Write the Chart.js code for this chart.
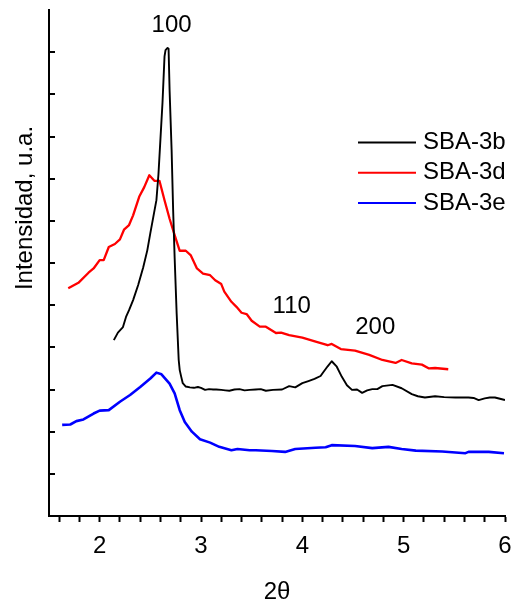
<!DOCTYPE html>
<html>
<head>
<meta charset="utf-8">
<script src="https://cdn.jsdelivr.net/npm/chart.js@4/dist/chart.umd.min.js"></script>
<style>
html,body{margin:0;padding:0;background:#fff;}
canvas{display:block;}
</style>
</head>
<body>
<canvas id="c" width="512" height="602"></canvas>
<script>
// ---- data ----
const seriesNames = ['SBA-3b', 'SBA-3d', 'SBA-3e'];

const xB = [2.14,2.18,2.23,2.26,2.29,2.33,2.38,2.43,2.47,2.50,2.53,2.56,2.58,2.60,2.62,2.64,2.65,2.67,2.68,2.69,2.71,2.725,2.74,2.76,2.78,2.79,2.805,2.82,2.85,2.89,2.93,2.97,3.00,3.04,3.08,3.12,3.15,3.20,3.24,3.28,3.33,3.38,3.43,3.48,3.54,3.59,3.64,3.71,3.80,3.87,3.93,4.00,4.06,4.12,4.18,4.21,4.25,4.29,4.34,4.39,4.44,4.49,4.54,4.59,4.64,4.69,4.74,4.79,4.89,4.98,5.08,5.14,5.21,5.31,5.40,5.51,5.64,5.69,5.74,5.80,5.85,5.90,5.95,6.00];
const yB = [4.17,4.35,4.48,4.72,4.88,5.12,5.48,5.90,6.30,6.71,7.10,7.49,8.10,8.95,9.80,10.90,11.05,11.10,11.08,10.10,8.68,7.26,6.12,4.79,3.70,3.46,3.30,3.15,3.07,3.05,3.04,3.06,3.04,2.99,3.01,3.00,3.00,2.99,2.98,2.97,3.00,3.01,2.98,2.99,3.00,3.01,2.97,2.99,3.00,3.08,3.05,3.15,3.20,3.25,3.32,3.42,3.55,3.67,3.54,3.30,3.10,2.99,3.00,2.92,2.98,3.01,3.01,3.08,3.11,3.03,2.89,2.84,2.81,2.84,2.82,2.81,2.81,2.80,2.75,2.79,2.81,2.81,2.78,2.75];

const xD = [1.69,1.79,1.89,1.94,2.00,2.04,2.09,2.15,2.20,2.24,2.29,2.33,2.39,2.44,2.49,2.54,2.59,2.64,2.69,2.74,2.79,2.85,2.90,2.96,3.02,3.09,3.14,3.20,3.23,3.30,3.35,3.40,3.45,3.50,3.58,3.64,3.74,3.79,3.87,4.00,4.14,4.25,4.29,4.38,4.52,4.66,4.79,4.92,4.98,5.08,5.18,5.25,5.31,5.44];
const yD = [5.40,5.53,5.77,5.87,6.07,6.07,6.38,6.45,6.56,6.79,6.90,7.13,7.57,7.80,8.08,7.95,7.95,7.49,7.05,6.66,6.29,6.29,6.18,5.87,5.75,5.71,5.59,5.50,5.32,5.08,4.96,4.82,4.79,4.63,4.49,4.49,4.34,4.35,4.29,4.23,4.13,4.05,4.08,3.96,3.92,3.82,3.70,3.63,3.70,3.62,3.59,3.50,3.51,3.48];

const xE = [1.63,1.71,1.77,1.84,1.94,2.00,2.09,2.20,2.30,2.40,2.50,2.56,2.61,2.69,2.74,2.79,2.84,2.91,2.99,3.09,3.18,3.30,3.36,3.48,3.54,3.70,3.83,3.93,4.13,4.23,4.29,4.52,4.69,4.85,4.98,5.12,5.38,5.61,5.64,5.84,5.99];
const yE = [2.16,2.17,2.25,2.29,2.43,2.50,2.51,2.71,2.87,3.06,3.26,3.40,3.36,3.14,2.91,2.51,2.23,2.00,1.82,1.74,1.64,1.56,1.59,1.56,1.56,1.54,1.52,1.59,1.62,1.63,1.68,1.66,1.61,1.64,1.59,1.55,1.53,1.49,1.52,1.52,1.49];

const xTicks = [1.6,1.8,2.0,2.2,2.4,2.6,2.8,3.0,3.2,3.4,3.6,3.8,4.0,4.2,4.4,4.6,4.8,5.0,5.2,5.4,5.6,5.8,6.0];
const yTicks = [0,1,2,3,4,5,6,7,8,9,10,11,12];
const peakLabels = ['100', '110', '200'];
const xTitle = '2\u03b8';
const yTitle = 'Intensidad, u.a.';

// ---- chart ----
const FONT = '"Liberation Sans", Arial, Helvetica, sans-serif';
Chart.defaults.font.family = FONT;
Chart.defaults.color = '#000';

const pts = (xs, ys) => xs.map((x, i) => ({x: x, y: ys[i]}));
const colors = ['#000000', '#ff0000', '#0000ff'];
const widths = [1.9, 2.3, 2.6];

const overlay = {
  id: 'overlay',
  afterDraw(chart) {
    const ctx = chart.ctx;
    const xs = chart.scales.x, ys = chart.scales.y;
    const ca = chart.chartArea;
    ctx.save();
    // inward y ticks
    ctx.strokeStyle = '#000';
    ctx.lineWidth = 2;
    yTicks.forEach(v => {
      if (v <= 0 || v >= 12) return;
      const py = Math.round(ys.getPixelForValue(v));
      ctx.beginPath();
      ctx.moveTo(ca.left, py);
      ctx.lineTo(ca.left + 6, py);
      ctx.stroke();
    });
    // peak annotations
    ctx.fillStyle = '#000';
    ctx.font = '24px ' + FONT;
    ctx.textAlign = 'center';
    ctx.textBaseline = 'middle';
    const annPos = [[2.71, 11.64], [3.895, 4.98], [4.72, 4.48]];
    peakLabels.forEach((t, i) => {
      ctx.fillText(t, xs.getPixelForValue(annPos[i][0]), ys.getPixelForValue(annPos[i][1]));
    });
    // legend
    const lgX = 358, lgLen = 58, lgText = 423, lgY0 = 142.5, lgDy = 30.3;
    chart.data.datasets.forEach((ds, i) => {
      const yy = lgY0 + i * lgDy;
      ctx.strokeStyle = ds.borderColor;
      ctx.lineWidth = 2;
      ctx.beginPath();
      ctx.moveTo(lgX, yy);
      ctx.lineTo(lgX + lgLen, yy);
      ctx.stroke();
      ctx.textAlign = 'left';
      ctx.fillStyle = '#000';
      ctx.fillText(ds.label, lgText, yy);
    });
    // axis titles
    ctx.textAlign = 'center';
    ctx.fillText(xTitle, (ca.left + ca.right) / 2, 592);
    ctx.translate(25, 208);
    ctx.rotate(-Math.PI / 2);
    ctx.fillText(yTitle, 0, 0);
    ctx.restore();
  }
};

new Chart(document.getElementById('c'), {
  type: 'scatter',
  data: {
    datasets: [
      {label: seriesNames[0], data: pts(xB, yB), borderColor: colors[0], borderWidth: widths[0]},
      {label: seriesNames[1], data: pts(xD, yD), borderColor: colors[1], borderWidth: widths[1]},
      {label: seriesNames[2], data: pts(xE, yE), borderColor: colors[2], borderWidth: widths[2]}
    ].map(d => Object.assign(d, {showLine: true, pointRadius: 0, tension: 0, fill: false, borderJoinStyle: 'round'}))
  },
  options: {
    responsive: false,
    devicePixelRatio: 1,
    animation: false,
    layout: {padding: {top: 10, right: 7, left: 0, bottom: 0}},
    plugins: {legend: {display: false}, tooltip: {enabled: false}},
    scales: {
      x: {
        type: 'linear', min: 1.5, max: 6,
        afterBuildTicks: s => { s.ticks = xTicks.map(v => ({value: v})); },
        afterFit: s => { s.height = 86; s.paddingLeft = 0; s.paddingRight = 0; },
        ticks: {
          autoSkip: false, maxRotation: 0, padding: 10,
          font: {size: 24}, color: '#000',
          callback: v => Math.abs(v - Math.round(v)) < 1e-6 ? String(Math.round(v)) : ''
        },
        grid: {drawOnChartArea: false, drawTicks: true, tickLength: 6, tickWidth: 2, tickColor: '#000'},
        border: {display: true, color: '#000', width: 2}
      },
      y: {
        type: 'linear', min: 0, max: 12,
        afterBuildTicks: s => { s.ticks = yTicks.map(v => ({value: v})); },
        afterFit: s => { s.width = 49; s.paddingTop = 0; s.paddingBottom = 0; },
        ticks: {display: false},
        grid: {drawOnChartArea: false, drawTicks: false},
        border: {display: true, color: '#000', width: 2}
      }
    }
  },
  plugins: [overlay]
});
</script>
</body>
</html>
